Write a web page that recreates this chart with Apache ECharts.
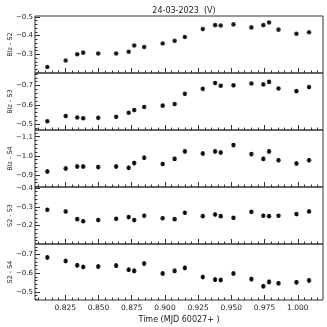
<!DOCTYPE html>
<html>
<head>
<meta charset="utf-8">
<script src="https://cdn.jsdelivr.net/npm/echarts@6/dist/echarts.min.js"></script>
<style>
  html, body { margin: 0; padding: 0; background: #fff; }
  #chart { width: 327px; height: 327px; }
</style>
</head>
<body>
<div id="chart"></div>
<script>
var title = '24-03-2023  (V)';
var xName = 'Time (MJD 60027+ )';
var panelNames = ['Blz - S2', 'Blz - S3', 'Blz - S4', 'S2 - S3', 'S2 - S4'];

// time of each point (fraction of day after MJD 60027)
var times = [0.8115, 0.8253, 0.834, 0.8385, 0.8498, 0.8633, 0.8727, 0.8769, 0.8844, 0.8983, 0.9073,
  0.915, 0.9285, 0.9378, 0.942, 0.9516, 0.9651, 0.9741, 0.9784, 0.9855, 0.999, 1.0085];

var blzS2 = [-0.232, -0.267, -0.300, -0.309, -0.304, -0.304, -0.314, -0.347, -0.339, -0.358, -0.372,
  -0.393, -0.435, -0.456, -0.454, -0.460, -0.444, -0.456, -0.470, -0.432, -0.410, -0.418];
var blzS3 = [-0.515, -0.542, -0.535, -0.531, -0.533, -0.538, -0.559, -0.573, -0.589, -0.596, -0.604,
  -0.657, -0.683, -0.713, -0.699, -0.701, -0.711, -0.706, -0.719, -0.685, -0.671, -0.692];
var blzS4 = [-0.918, -0.934, -0.944, -0.944, -0.941, -0.944, -0.937, -0.962, -0.990, -0.957, -0.984,
  -1.023, -1.012, -1.023, -1.017, -1.056, -1.009, -0.984, -1.023, -0.977, -0.960, -0.977];
var s2S3 = [-0.284, -0.275, -0.234, -0.223, -0.229, -0.236, -0.245, -0.229, -0.252, -0.239, -0.234,
  -0.268, -0.250, -0.259, -0.250, -0.241, -0.273, -0.252, -0.250, -0.252, -0.261, -0.275];
var s2S4 = [-0.684, -0.665, -0.642, -0.633, -0.635, -0.640, -0.618, -0.612, -0.651, -0.598, -0.612,
  -0.628, -0.579, -0.565, -0.563, -0.598, -0.568, -0.530, -0.553, -0.546, -0.551, -0.561];

// typical error per panel
var panelErr = [0.005, 0.008, 0.011, 0.010, 0.012];

var yMins = [-0.505, -0.765, -1.135, -0.405, -0.756];
var yMaxs = [-0.200, -0.470, -0.837, -0.102, -0.456];
var yMajorTicks = [[-0.5, -0.4, -0.3], [-0.7, -0.6, -0.5], [-1.1, -1.0, -0.9], [-0.4, -0.3, -0.2], [-0.7, -0.6, -0.5]];
var xMajorTicks = [0.825, 0.850, 0.875, 0.900, 0.925, 0.950, 0.975, 1.000];

var xMin = 0.8022, xMax = 1.019;

var panels = [blzS2, blzS3, blzS4, s2S3, s2S4];
var tops = [16, 73, 130, 187, 244];
var heights = [57, 57, 57, 57, 56];

function ticksBetween(lo, hi, step) {
  var out = [];
  var start = Math.ceil(lo / step - 1e-9);
  for (var k = start; k * step <= hi + 1e-9; k++) out.push(Math.round(k * step * 10000) / 10000);
  return out;
}
function fmtY(v) {
  return (v < 0 ? '\u2212' : '') + Math.abs(v).toFixed(1);
}

var xMinorTicks = ticksBetween(xMin, xMax, 0.005);
var textCol = '#222';
var fontFam = 'DejaVu Sans';

var grids = [], xAxes = [], yAxes = [], series = [];
panels.forEach(function (vals, i) {
  grids.push({ left: 35, right: 4, top: tops[i], height: heights[i], show: true,
    containLabel: false, outerBoundsMode: 'none',
    borderColor: '#333', borderWidth: 1, backgroundColor: 'transparent' });
  var last = i === panels.length - 1;
  // bottom major ticks (+ labels on last panel)
  xAxes.push({ type: 'value', gridIndex: i, min: xMin, max: xMax, position: 'bottom',
    axisLine: { show: false }, splitLine: { show: false },
    axisTick: { show: true, inside: true, length: 5, customValues: xMajorTicks, lineStyle: { color: '#333', width: 1 } },
    axisLabel: { show: last, customValues: xMajorTicks, color: textCol, fontSize: 7.5, fontFamily: fontFam, margin: 4,
      formatter: function (v) { return v.toFixed(3); } },
    name: last ? xName : '', nameLocation: 'middle', nameGap: 16, nameMoveOverlap: false,
    nameTextStyle: { color: textCol, fontSize: 8, fontFamily: fontFam } });
  // bottom minor ticks
  xAxes.push({ type: 'value', gridIndex: i, min: xMin, max: xMax, position: 'bottom',
    axisLine: { show: false }, splitLine: { show: false }, axisLabel: { show: false },
    axisTick: { show: true, inside: true, length: 2.5, customValues: xMinorTicks, lineStyle: { color: '#333', width: 1 } } });
  var yMinor = ticksBetween(yMins[i], yMaxs[i], 0.02);
  yAxes.push({ type: 'value', gridIndex: i, min: yMins[i], max: yMaxs[i], inverse: true, position: 'left',
    axisLine: { show: false }, splitLine: { show: false },
    axisTick: { show: true, inside: true, length: 5, customValues: yMajorTicks[i], lineStyle: { color: '#333', width: 1 } },
    axisLabel: { customValues: yMajorTicks[i], color: textCol, fontSize: 7, fontFamily: fontFam, margin: 2, formatter: fmtY },
    name: panelNames[i], nameLocation: 'middle', nameGap: 21, nameRotate: 90, nameMoveOverlap: false,
    nameTextStyle: { color: textCol, fontSize: 6.5, fontFamily: fontFam } });
  yAxes.push({ type: 'value', gridIndex: i, min: yMins[i], max: yMaxs[i], inverse: true, position: 'left',
    axisLine: { show: false }, splitLine: { show: false }, axisLabel: { show: false },
    axisTick: { show: true, inside: true, length: 2.5, customValues: yMinor, lineStyle: { color: '#333', width: 1 } } });

  var data = vals.map(function (v, j) { return [times[j], v]; });
  var err = panelErr[i];
  series.push({ type: 'custom', xAxisIndex: 2 * i, yAxisIndex: 2 * i, silent: true,
    renderItem: function (params, api) {
      var x = api.value(0), y = api.value(1);
      var p1 = api.coord([x, y - err]);
      var p2 = api.coord([x, y + err]);
      return { type: 'line', shape: { x1: p1[0], y1: p1[1], x2: p2[0], y2: p2[1] },
        style: { stroke: '#000', lineWidth: 1.8 } };
    },
    data: data, z: 2 });
  series.push({ type: 'scatter', xAxisIndex: 2 * i, yAxisIndex: 2 * i, symbol: 'circle', symbolSize: 4.6,
    itemStyle: { color: '#000' }, data: data, z: 3, silent: true });
});

var chart = echarts.init(document.getElementById('chart'), null, { renderer: 'canvas' });
chart.setOption({
  animation: false,
  title: { text: title, left: 179, top: 2, textAlign: 'center',
    textStyle: { color: textCol, fontSize: 8, fontWeight: 'normal', fontFamily: fontFam } },
  grid: grids,
  xAxis: xAxes,
  yAxis: yAxes,
  series: series
});
</script>
</body>
</html>
